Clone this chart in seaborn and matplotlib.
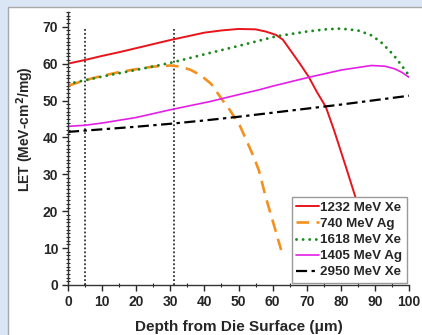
import numpy as np
import pandas as pd
import seaborn as sns
import matplotlib.pyplot as plt
import matplotlib.ticker as ticker
from matplotlib.patches import Rectangle

# depth (um) and LET (MeV-cm2/mg)
xe1232_x = [0, 5, 10, 15, 20, 25, 30, 35, 40, 45, 50, 55, 58, 61, 63, 65.7, 68, 70.6, 73, 75.6, 78, 81.5, 84.2, 88, 92]
xe1232_y = [60, 61, 62.1, 63.1, 64.2, 65.3, 66.4, 67.4, 68.4, 69, 69.4, 69.3, 68.7, 67.8, 66.5, 63, 60, 56.4, 52.3, 48.3, 42, 32, 24.1, 13, 1]

ag740_x = [0, 5, 10, 15, 20, 25, 30, 33, 36, 39, 42, 45, 47.4, 50.3, 53.2, 54.6, 56, 58, 60, 62.5]
ag740_y = [54, 55.5, 56.7, 57.7, 58.5, 59.2, 59.5, 59.2, 58.3, 56.8, 54.5, 50.5, 47.5, 43.4, 37.4, 34.4, 31, 23.8, 17.5, 9.5]

xe1618_x = [0, 5, 10, 20, 30, 41.6, 50, 61, 70, 75.6, 80, 85, 88.7, 91.6, 94.5, 96.2, 98, 100]
xe1618_y = [54.5, 55.5, 56.5, 58.3, 60.2, 62.9, 64.8, 67.4, 68.7, 69.3, 69.5, 69, 67.8, 66, 63.3, 61.5, 59.3, 56.8]

ag1405_x = [0, 5, 10, 20, 30, 41.5, 50, 56, 60, 70.6, 80.3, 89, 93, 95.8, 98, 100]
ag1405_y = [43, 43.3, 43.9, 45.4, 47.5, 49.7, 51.6, 52.9, 53.9, 56.3, 58.3, 59.5, 59.3, 58.6, 57.6, 56.3]

xe2950_x = [0, 10, 20, 30, 40, 50, 60, 70, 80, 90, 100]
xe2950_y = [41.5, 42.2, 42.9, 43.7, 44.6, 45.6, 46.7, 47.8, 48.9, 50.1, 51.3]

marker_depths = [5, 31]
marker_top = 70

series = [
    ('1232 MeV Xe', xe1232_x, xe1232_y),
    ('740 MeV Ag', ag740_x, ag740_y),
    ('1618 MeV Xe', xe1618_x, xe1618_y),
    ('1405 MeV Ag', ag1405_x, ag1405_y),
    ('2950 MeV Xe', xe2950_x, xe2950_y),
]
styles = {
    '1232 MeV Xe': dict(color='#e8141c', lw=1.4),
    '740 MeV Ag': dict(color='#f4901e', lw=1.9, dashes=(4.8, 2.8)),
    '1618 MeV Xe': dict(color='#1a8a1e', lw=2.1, dashes=(0.01, 2.25), dash_capstyle='round'),
    '1405 MeV Ag': dict(color='#e31ee8', lw=1.2),
    '2950 MeV Xe': dict(color='black', lw=1.6, dashes=(5, 2, 1.5, 2)),
}

sns.set_style('ticks')
plt.rcParams['font.family'] = ['Liberation Sans', 'DejaVu Sans']
plt.rcParams['font.weight'] = 'bold'

fig = plt.figure(figsize=(4.22, 3.35), dpi=100)
fig.patch.set_facecolor('#dae6f5')
fig.patches.append(Rectangle((8 / 422, -0.01), 1, 1 - 7 / 335 + 0.01, transform=fig.transFigure,
                             facecolor='white', edgecolor='#a8a8a8', lw=1, zorder=-5))
ax = fig.add_axes([68 / 422, 50 / 335, 341 / 422, 273 / 335])
ax.set_facecolor('none')

ax.vlines(marker_depths, 0, marker_top, colors='#333333', linestyles=(0, (1, 1.2)), lw=1.3, zorder=1)

for name, xs, ys in series:
    df = pd.DataFrame({'depth': xs, 'LET': ys})
    st = dict(styles[name])
    dashes = st.pop('dashes', None)
    capstyle = st.pop('dash_capstyle', 'butt')
    line = sns.lineplot(data=df, x='depth', y='LET', ax=ax, label=name, **st).lines[-1]
    if dashes is not None:
        line.set_dashes(dashes)
    line.set_dash_capstyle(capstyle)
    line.set_zorder(2)

ax.set_xlim(0, 100)
ax.set_ylim(0, 74)
ax.xaxis.set_major_locator(ticker.MultipleLocator(10))
ax.xaxis.set_minor_locator(ticker.MultipleLocator(5))
ax.yaxis.set_major_locator(ticker.MultipleLocator(10))
ax.yaxis.set_minor_locator(ticker.MultipleLocator(1))
ax.tick_params(which='major', direction='out', length=4, width=1, labelsize=10, pad=3)
ax.tick_params(which='minor', direction='inout', length=3, width=0.8)
for lab in ax.get_xticklabels() + ax.get_yticklabels():
    lab.set_fontweight('bold')
sns.despine(ax=ax)
for sp in ('left', 'bottom'):
    ax.spines[sp].set_color('#333333')
    ax.spines[sp].set_linewidth(1)

ax.set_xlabel('Depth from Die Surface (\u03bcm)', fontsize=11, fontweight='bold', labelpad=8)
ax.set_ylabel('LET (MeV-cm$^\\mathbf{2}$/mg)', fontsize=10, fontweight='bold')
ax.yaxis.set_label_coords(-0.093, 0.57)

leg = ax.legend(loc='lower right', fontsize=9.6, handlelength=1.7, handletextpad=0.1,
                labelspacing=0.28, borderpad=0.35, borderaxespad=0.15, fancybox=False,
                framealpha=1, edgecolor='#999999')
leg.get_frame().set_linewidth(1)
for t in leg.get_texts():
    t.set_fontweight('bold')

fig.savefig('out.png', dpi=100, facecolor=fig.get_facecolor())
